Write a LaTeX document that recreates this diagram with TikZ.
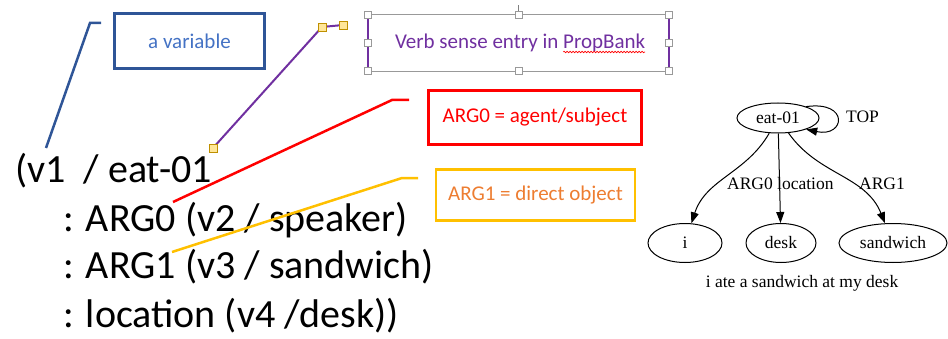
\documentclass[tikz,border=0pt]{standalone}
\usepackage{fontspec}
\setmainfont{Carlito}
\newfontfamily\graphfont{Liberation Serif}
\usetikzlibrary{arrows.meta,shapes.geometric,decorations.pathmorphing}

\definecolor{varblue}{HTML}{2F5597}
\definecolor{vartext}{HTML}{4472C4}
\definecolor{senseviolet}{HTML}{7030A0}
\definecolor{argred}{HTML}{FF0000}
\definecolor{argonegold}{HTML}{FFC000}
\definecolor{argonetext}{HTML}{ED7D31}
\definecolor{handlefill}{HTML}{FFE699}
\definecolor{handleline}{HTML}{BF9000}

\begin{document}
\begin{tikzpicture}[x=1pt,y=1pt,
    amr/.style={inner sep=0,anchor=base west,font=\fontsize{40}{44}\selectfont},
    note/.style={draw,line width=2.5pt,inner sep=0,font=\fontsize{21}{24}\selectfont},
    sensetext/.style={inner sep=0,outer sep=0,anchor=base west,text=senseviolet,font=\fontsize{21}{24}\selectfont},
    callout/.style={line width=2.5pt},
    hdl/.style={draw=handleline,fill=handlefill,line width=0.7pt,minimum size=8pt,inner sep=0},
    selhdl/.style={draw=black!40,fill=white,line width=0.7pt,minimum size=7pt,inner sep=0},
    gnode/.style={draw=black,ellipse,line width=1pt,inner sep=0,font=\graphfont\fontsize{17.5}{20}\selectfont},
    glabel/.style={inner sep=0,font=\graphfont\fontsize{17.5}{20}\selectfont},
    garrow/.style={draw=black,line width=1pt,-{Triangle[length=11pt,width=8pt]}}]
  \useasboundingbox (0,0) rectangle (948,338);

  % the AMR in text form
    \draw (15,156) node[amr] (lone) {(v1~~/ eat-01};
    \draw (63,107) node[amr] (ltwo) {: ARG0 (v2 / speaker)};
    \draw (63,60) node[amr] (lthree) {: ARG1 (v3 / sandwich)};
    \draw (63,11) node[amr] (lfour) {: location (v4 /desk))};

  % notes
    \draw (189.5,297) node[note,draw=varblue,text=vartext,minimum width=150,minimum height=55] (var) {a variable};
    \draw (535,220.5) node[note,draw=argred,text=argred,minimum width=213,minimum height=54] (argzero) {ARG0 = agent/subject};
    \draw (535.5,143) node[note,draw=argonegold,text=argonetext,minimum width=199,minimum height=51] (argone) {ARG1 = direct object};

    \draw (518.5,295) node[minimum width=301,minimum height=56,inner sep=0] (sense) {};
    \draw (395,289) node[sensetext] (sensetxt) {Verb sense entry in};
    \draw ([xshift=4.8pt]sensetxt.base east) node[sensetext] (pbank) {PropBank};
      \draw[argred,line width=0.6pt,decorate,decoration={snake,amplitude=0.8pt,segment length=3pt}]
        ([yshift=-3pt]pbank.base west) -- ([yshift=-3pt]pbank.base east);
      \draw[black!40,line width=1.2pt] (sense.north west) -- (sense.north east) (sense.south west) -- (sense.south east);
      \draw[senseviolet,line width=1.5pt] (sense.north west) -- (sense.south west) (sense.north east) -- (sense.south east);
      \draw[black!50,line width=0.7pt] (sense.north) -- ++(0,10);
      \foreach \a [count=\k] in {north west,north,north east,west,east,south west,south,south east}
        \node[selhdl] (sh\k) at (sense.\a) {};

  % callout lines
    \coordinate (vartip) at (101,315);
    \coordinate (varbend) at (90,315);
    \coordinate (varend) at (46,190);
      \draw[callout,varblue] (vartip) -- (varbend) -- (varend);

    \coordinate (sensetip) at (343,313);
    \coordinate (sensebend) at (322,311);
    \coordinate (senseend) at (213,190);
      \draw[callout,senseviolet,line width=2pt] (sensetip) -- (sensebend) -- (senseend);
      \node[hdl] (ph1) at (sensetip) {};
      \node[hdl] (ph2) at (sensebend) {};
      \node[hdl] (ph3) at (senseend) {};

    \coordinate (zerotip) at (409,238);
    \coordinate (zerobend) at (392,238);
    \coordinate (zeroend) at (173,136);
      \draw[callout,argred] (zerotip) -- (zerobend) -- (zeroend);

    \coordinate (onetip) at (418,160);
    \coordinate (onebend) at (402,160);
    \coordinate (oneend) at (172,86);
      \draw[callout,argonegold] (onetip) -- (onebend) -- (oneend);

  % the graph
    \draw (778,220) node[gnode,minimum width=82,minimum height=30] (eat) {eat-01};
    \draw (685,95) node[gnode,minimum width=74,minimum height=39] (i) {i};
    \draw (781,95) node[gnode,minimum width=70,minimum height=39] (desk) {desk};
    \draw (893,95) node[gnode,minimum width=108,minimum height=39] (sandwich) {sandwich};
    \draw (802,55) node[glabel] (caption) {i ate a sandwich at my desk};

      \path[garrow] (eat) edge[out=240,in=72] (i);
      \path[garrow] (eat) edge (desk);
      \path[garrow] (eat) edge[out=-55,in=112] (sandwich);
      \draw[garrow] (eat.22) .. controls +(8:44) and +(-12:40) .. (eat.-22);

    \draw (750,154) node[glabel] (lzero) {ARG0};
    \draw (777,154) node[glabel,anchor=west] (lloc) {location};
    \draw (882,154) node[glabel] (lone) {ARG1};
    \draw (846,221) node[glabel,anchor=west] (ltop) {TOP};

\end{tikzpicture}
\end{document}
